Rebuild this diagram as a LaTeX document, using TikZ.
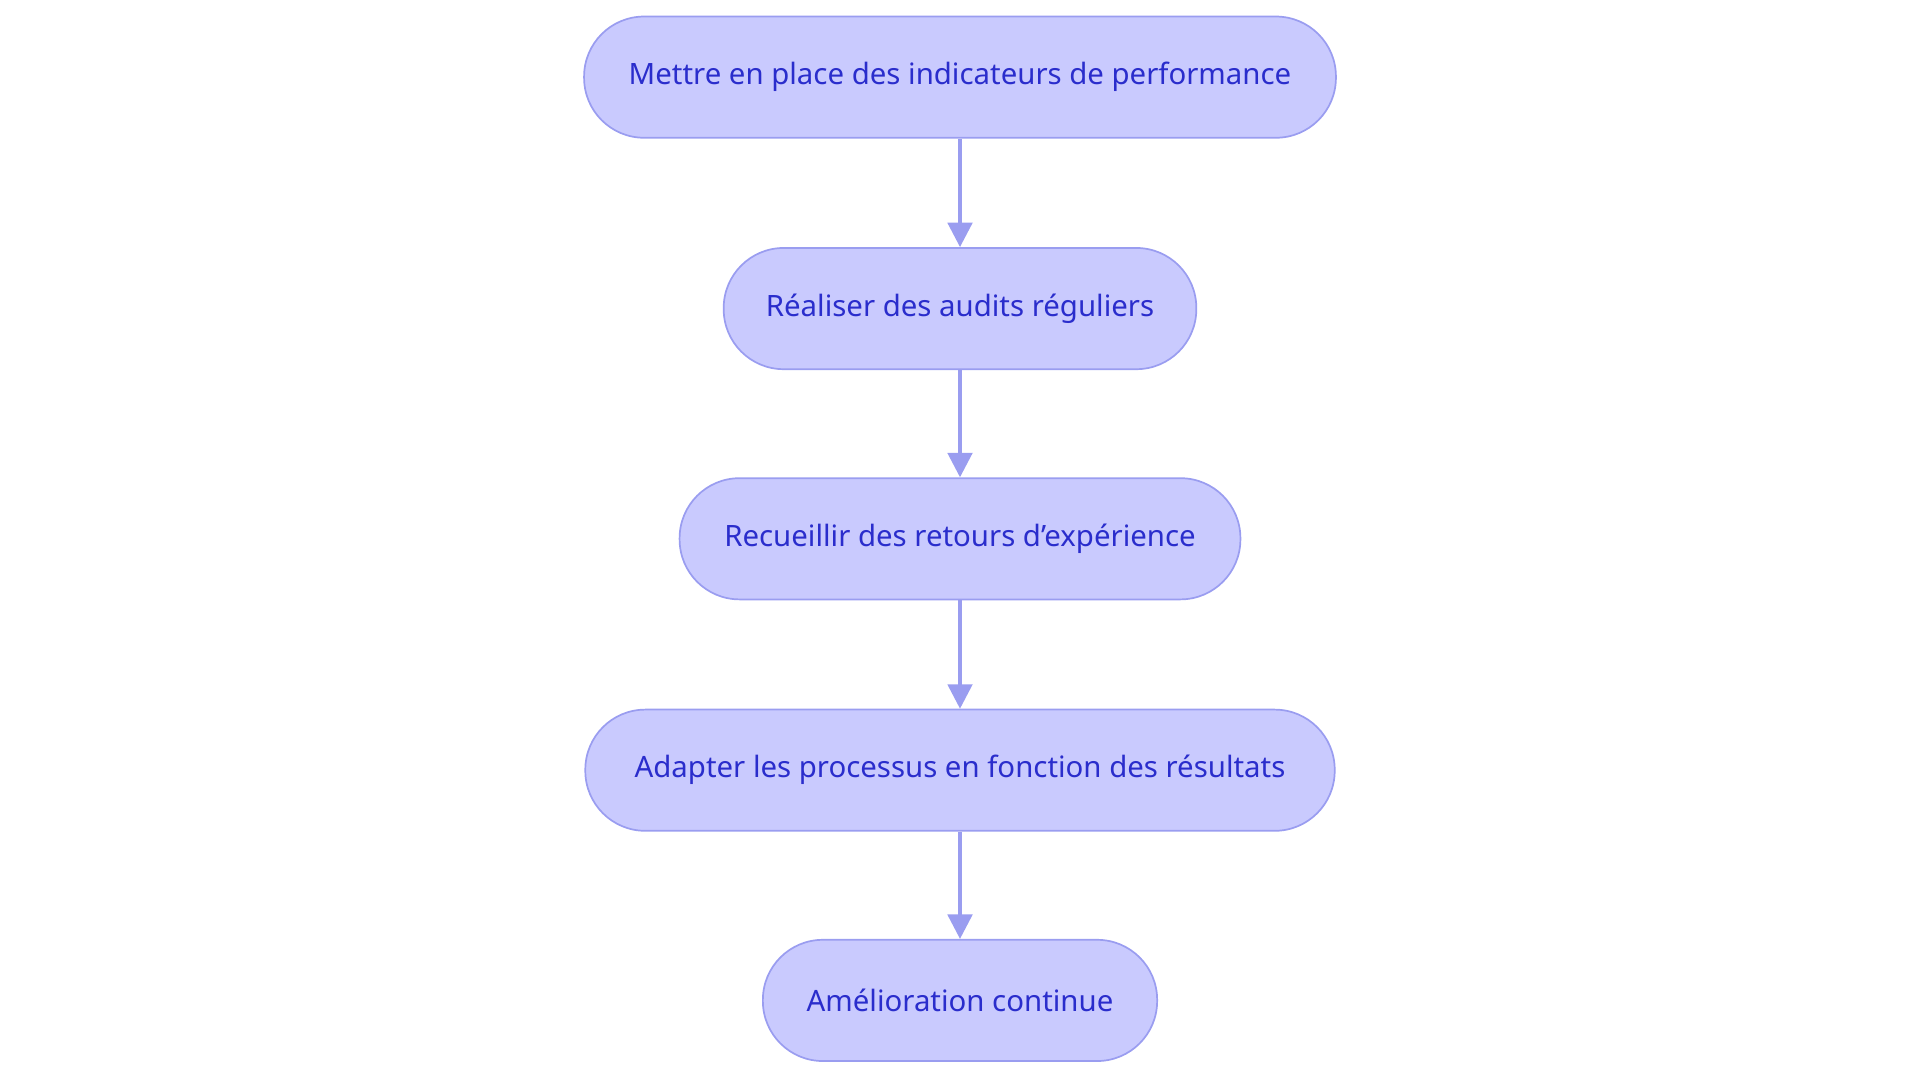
\documentclass[tikz,border=0pt]{standalone}
\usepackage{fontspec}
\setmainfont{Noto Sans}
\usetikzlibrary{arrows.meta}
\definecolor{fillc}{HTML}{C9CAFE}
\definecolor{linec}{HTML}{9A9DF0}
\definecolor{textc}{HTML}{2A2DCC}
\begin{document}
\begin{tikzpicture}[x=0.5pt,y=-0.5pt,
 box/.style={draw=linec,line width=0.7pt,fill=fillc,rounded corners=24.5pt,minimum height=49.5pt,text=textc,font=\fontsize{12}{14}\selectfont,inner sep=0pt},
 arr/.style={draw=linec,line width=1.5pt,-{Triangle[length=10pt,width=10pt]}}]
\useasboundingbox (0,0) rectangle (1568,884);
\node[box,minimum width=307pt] (a) at (784,63) {Mettre en place des indicateurs de performance};
\node[box,minimum width=193pt] (b) at (784,252) {Réaliser des audits réguliers};
\node[box,minimum width=229pt] (c) at (784,440) {Recueillir des retours d'expérience};
\node[box,minimum width=306pt] (d) at (784,629) {Adapter les processus en fonction des résultats};
\node[box,minimum width=161pt] (e) at (784,817) {Amélioration continue};
\draw[arr] (a) -- (b);
\draw[arr] (b) -- (c);
\draw[arr] (c) -- (d);
\draw[arr] (d) -- (e);
\end{tikzpicture}
\end{document}
